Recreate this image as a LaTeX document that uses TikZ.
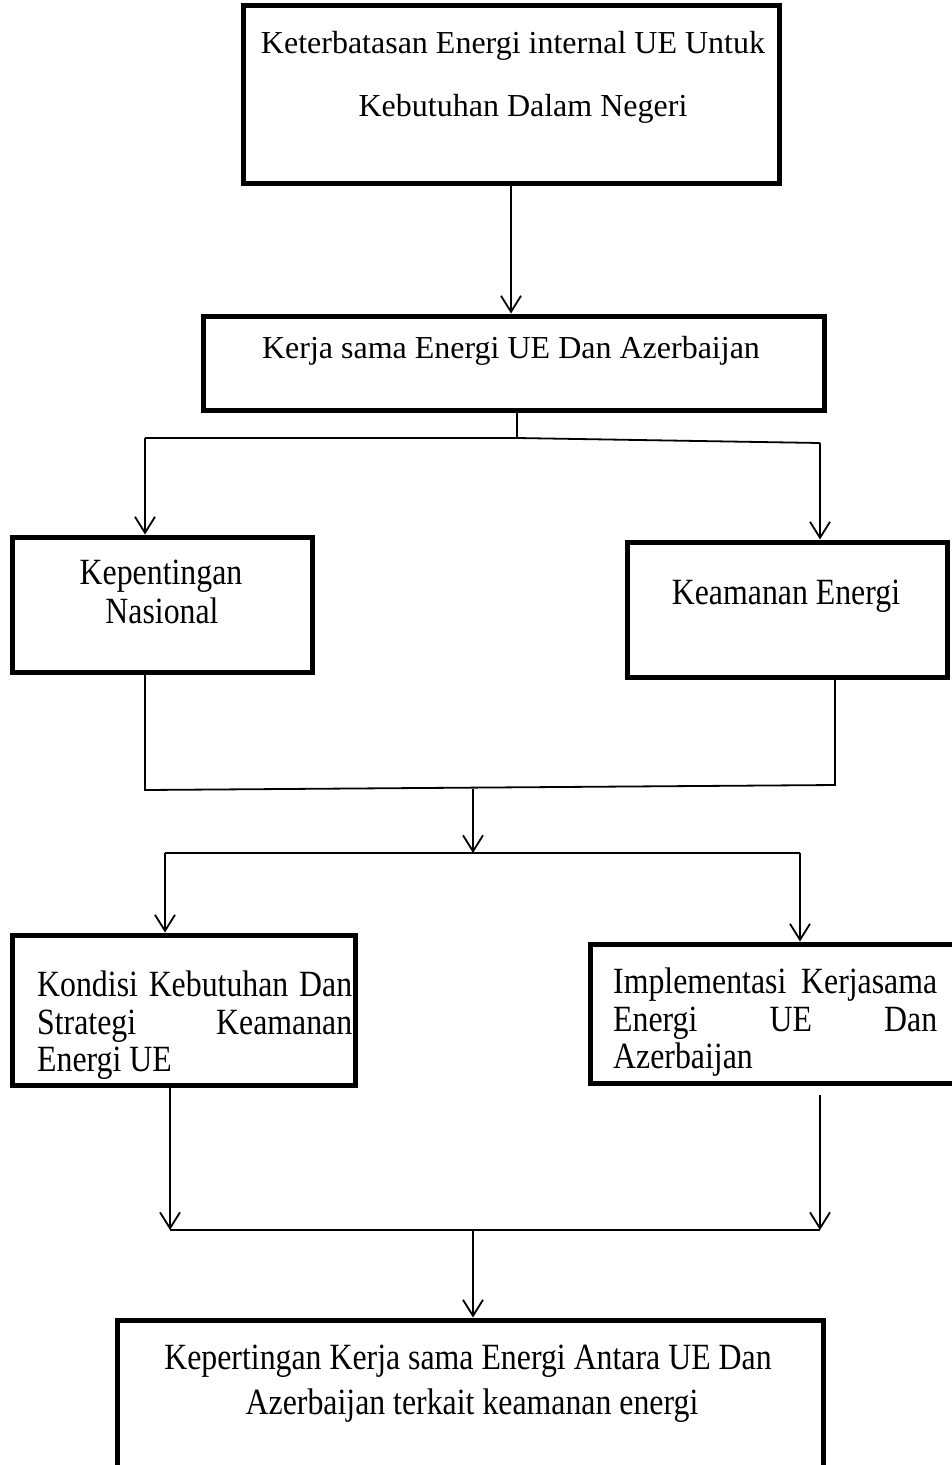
\documentclass[tikz,border=0pt]{standalone}
\usepackage{fontspec}
\setmainfont{Liberation Serif}
\newfontfamily\tallfont{Liberation Serif}[FakeStretch=0.86]
\usetikzlibrary{arrows.meta}
\begin{document}
\begin{tikzpicture}[x=1pt,y=-1pt,
  box/.style={draw, line width=5pt, inner sep=0pt},
  lbl/.style={inner sep=0pt, anchor=base, font=\fontsize{32}{37}\selectfont},
  tlbl/.style={inner sep=0pt, anchor=base, font=\tallfont\fontsize{37}{37}\selectfont},
  ln/.style={line width=1.8pt},
  arr/.style={line width=1.8pt, -{Straight Barb[length=16pt,width=20pt,line width=1.8pt]}}
]
\useasboundingbox (0,0) rectangle (952,1465);
% boxes
\node[box, minimum width=536pt, minimum height=178pt] (b1) at (511,94) {};
\node[box, minimum width=621pt, minimum height=94pt] (b2) at (513.5,363) {};
\node[box, minimum width=300pt, minimum height=135pt] (b3) at (162,604.5) {};
\node[box, minimum width=320pt, minimum height=135pt] (b4) at (787,609.5) {};
\node[box, minimum width=343pt, minimum height=150pt] (b5) at (183.5,1010) {};
\node[box, minimum width=364pt, minimum height=139pt] (b6) at (772,1013.5) {};
\node[box, minimum width=706pt, minimum height=150pt] (b7) at (470,1395) {};
% labels
\node[lbl] (t1a) at (513,53) {Keterbatasan Energi internal UE Untuk};
\node[lbl] (t1b) at (523,116) {Kebutuhan Dalam Negeri};
\node[lbl] (t2) at (511,358) {Kerja sama Energi UE Dan Azerbaijan};
\node[tlbl] (t3a) at (161,584) {Kepentingan};
\node[tlbl] (t3b) at (162,623) {Nasional};
\node[tlbl] (t4) at (786,604) {Keamanan Energi};
\node[tlbl, anchor=base west] (t5a) at (37,996) {\makebox[315pt][s]{Kondisi Kebutuhan Dan}};
\node[tlbl, anchor=base west] (t5b) at (37,1034) {\makebox[315pt][s]{Strategi Keamanan}};
\node[tlbl, anchor=base west] (t5c) at (37,1071) {Energi UE};
\node[tlbl, anchor=base west] (t6a) at (613,993) {\makebox[324pt][s]{Implementasi Kerjasama}};
\node[tlbl, anchor=base west] (t6b) at (613,1031) {\makebox[324pt][s]{Energi UE Dan}};
\node[tlbl, anchor=base west] (t6c) at (613,1068) {Azerbaijan};
\node[tlbl] (t7a) at (468,1369) {Kepertingan Kerja sama Energi Antara UE Dan};
\node[tlbl] (t7b) at (472,1414) {Azerbaijan terkait keamanan energi};
% connectors
\draw[arr] (b1.south) -- (b1.south |- b2.north);
\coordinate (j1) at (517,438);
\coordinate (j1l) at (145,438);
\coordinate (j1r) at (820,443);
\draw[ln] (j1 |- b2.south) -- (j1);
\draw[ln] (j1) -- (j1l);
\draw[ln] (j1) -- (j1r);
\draw[arr] (j1l) -- (j1l |- b3.north);
\draw[arr] (j1r) -- (j1r |- b4.north);
\coordinate (j2l) at (145,790);
\coordinate (j2r) at (835,785);
\coordinate (j2) at (473,789);
\draw[ln] (j2l |- b3.south) -- (j2l) -- (j2r) -- (j2r |- b4.south);
\coordinate (j3) at (473,853);
\coordinate (j3l) at (165,853);
\coordinate (j3r) at (800,853);
\draw[arr] (j2) -- (j3);
\draw[ln] (j3l) -- (j3r);
\draw[arr] (j3l) -- (j3l |- b5.north);
\draw[arr] (j3r) -- (j3r |- b6.north);
\coordinate (j4l) at (170,1230);
\coordinate (j4r) at (820,1230);
\coordinate (j4) at (473,1230);
\coordinate (s6) at (820,1095);
\draw[arr] (j4l |- b5.south) -- (j4l);
\draw[arr] (s6) -- (j4r);
\draw[ln] (j4l) -- (j4r);
\draw[arr] (j4) -- (j4 |- b7.north);
\end{tikzpicture}
\end{document}
